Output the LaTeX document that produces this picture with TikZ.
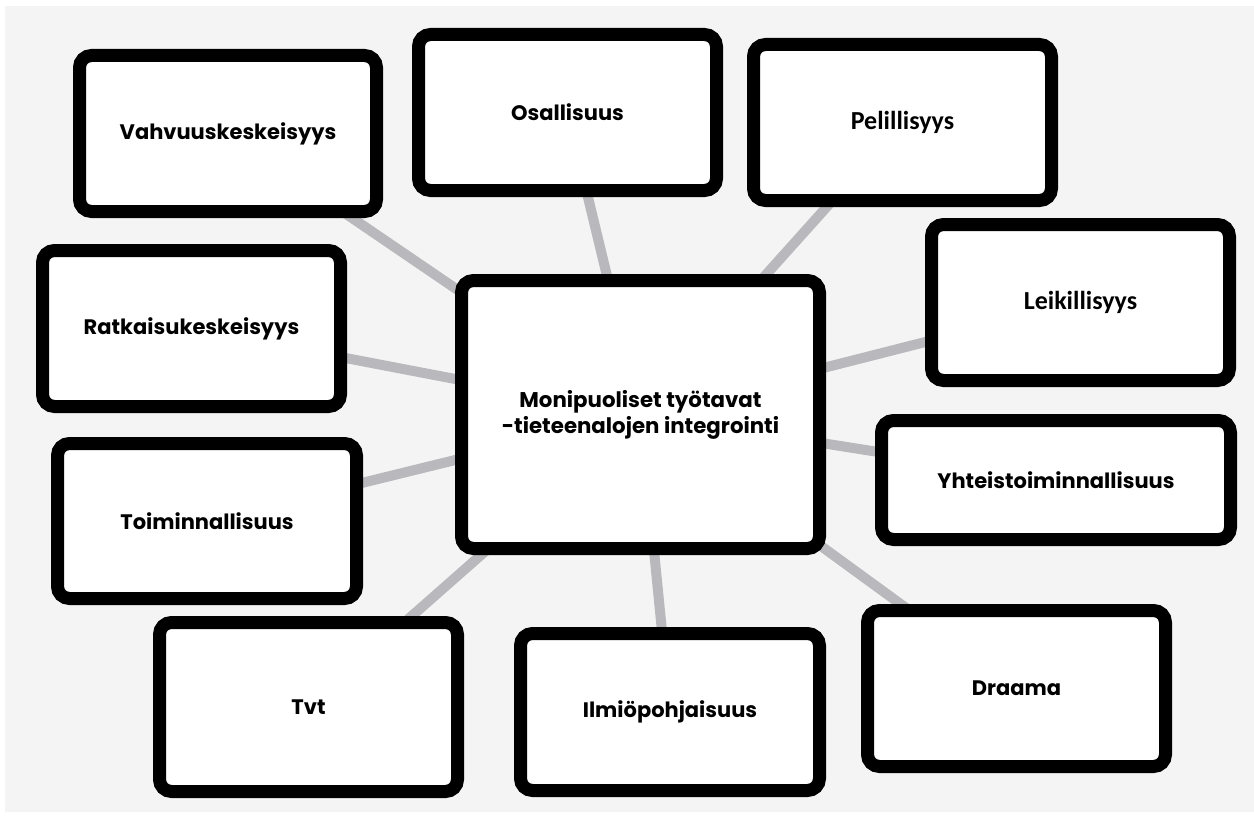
\documentclass[tikz,border=0pt]{standalone}
\usepackage{fontspec}
\setmainfont{Poppins}
\newfontfamily\carlitofont{Carlito}
\definecolor{bggray}{HTML}{F4F4F4}
\definecolor{linkgray}{HTML}{B9B9BD}
\pgfdeclarelayer{backlayer}
\pgfdeclarelayer{linklayer}
\pgfsetlayers{backlayer,linklayer,main}
\begin{document}
\begin{tikzpicture}[x=1pt,y=-1pt,
  box/.style={draw=black,fill=white,line width=13pt,rounded corners=12pt,
    inner sep=0pt,align=center,font=\fontsize{21}{26}\selectfont\bfseries},
  lbox/.style={box,font=\fontsize{26}{28}\carlitofont\bfseries},
  link/.style={draw=linkgray,line width=10pt}]
\useasboundingbox (0,0) rectangle (1254,816);
\begin{pgfonlayer}{backlayer}
\fill[white] (0,0) rectangle (1254,816);
\fill[bggray] (5,6) rectangle (1254,812);
\end{pgfonlayer}
\node[box,minimum width=358pt,minimum height=268pt,font=\fontsize{21.3}{26}\selectfont\bfseries] (cen) at (640.5,414.5) {Monipuoliset työtavat\\-tieteenalojen integrointi};
\node[box,minimum width=297pt,minimum height=156pt] (vah) at (228,133.5) {Vahvuuskeskeisyys};
\node[box,minimum width=298pt,minimum height=156pt] (osa) at (567.5,112.5) {Osallisuus};
\node[lbox,minimum width=298pt,minimum height=156pt] (pel) at (902.5,122.5) {Pelillisyys};
\node[lbox,minimum width=298pt,minimum height=156pt] (lei) at (1080.5,302.5) {Leikillisyys};
\node[box,minimum width=298pt,minimum height=156pt] (rat) at (191.5,328.5) {Ratkaisukeskeisyys};
\node[box,minimum width=299pt,minimum height=155pt] (toi) at (207,521) {Toiminnallisuus};
\node[box,minimum width=298pt,minimum height=169pt] (tvt) at (308.5,707) {Tvt};
\node[box,minimum width=299pt,minimum height=157pt] (ilm) at (670,712) {Ilmiöpohjaisuus};
\node[box,minimum width=298pt,minimum height=156pt] (dra) at (1016.5,688.5) {Draama};
\node[box,minimum width=349pt,minimum height=119pt] (yht) at (1056,480) {Yhteistoiminnallisuus};
\begin{pgfonlayer}{linklayer}
\foreach \n in {vah,osa,pel,lei,rat,toi,tvt,ilm,dra,yht}{
  \path[link] (cen.center) -- (\n.center);
}
\end{pgfonlayer}
\end{tikzpicture}
\end{document}
